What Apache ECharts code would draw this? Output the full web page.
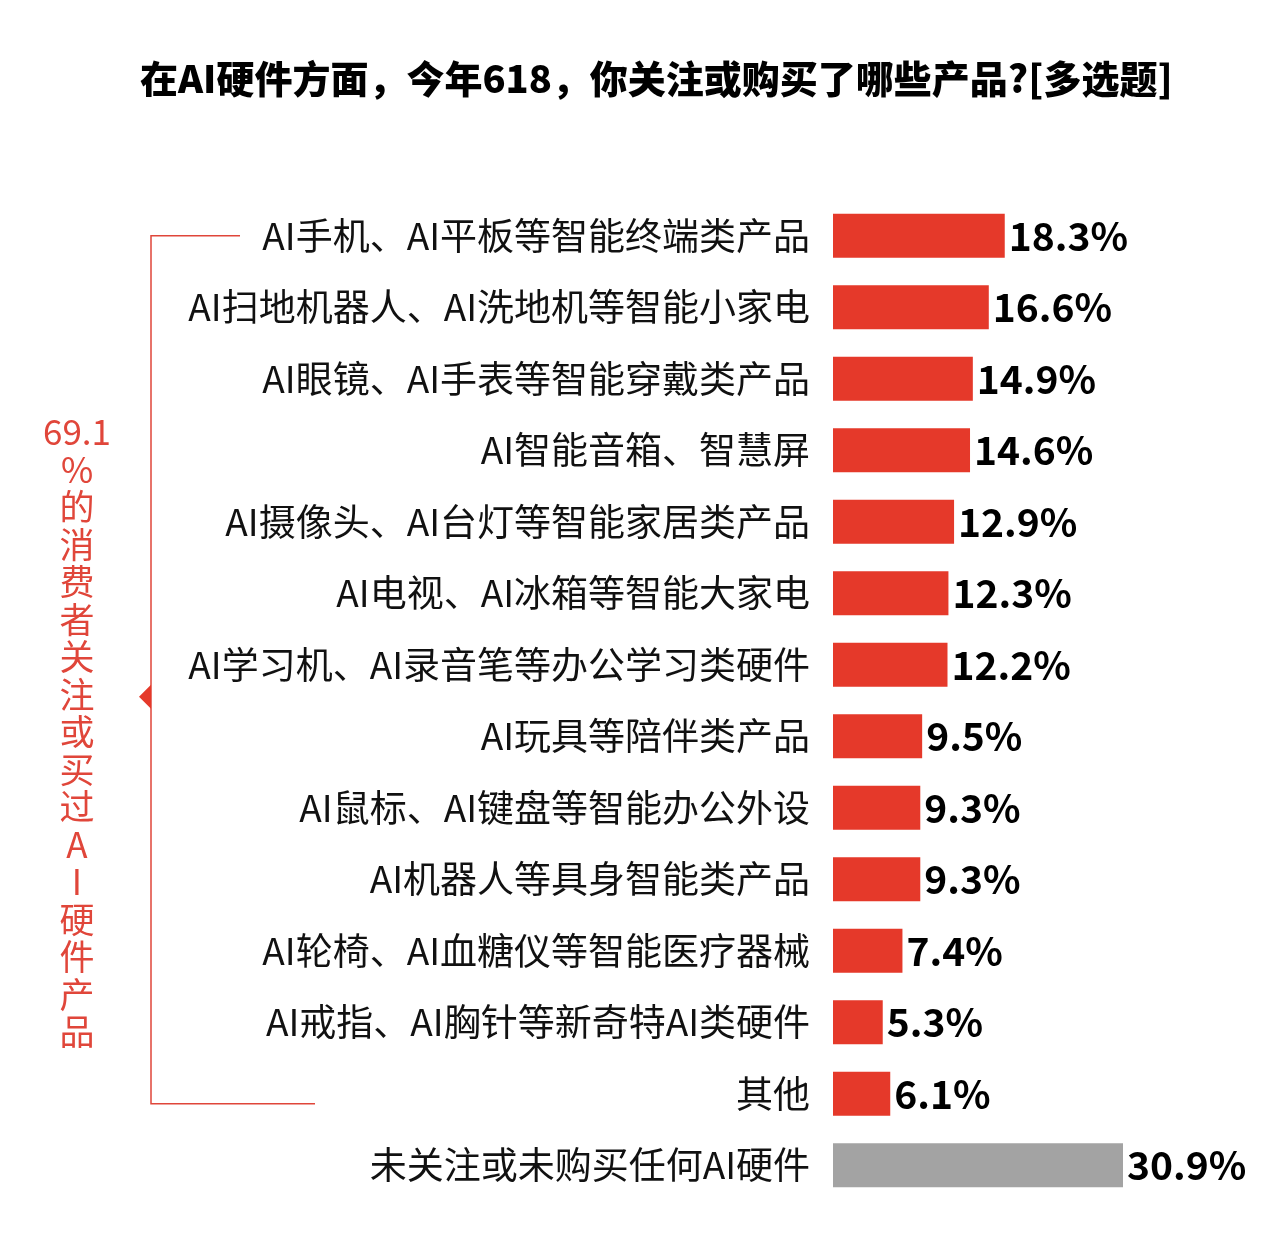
<!DOCTYPE html>
<html>
<head>
<meta charset="utf-8">
<script src="https://cdn.jsdelivr.net/npm/echarts@6/dist/echarts.min.js"></script>
<style>
  html, body { margin: 0; padding: 0; background: #fff; }
  #main { width: 1280px; height: 1252px; }
</style>
</head>
<body>
<div id="main"></div>
<script>
// data, top to bottom
const categories = [
  "AI手机、AI平板等智能终端类产品",
  "AI扫地机器人、AI洗地机等智能小家电",
  "AI眼镜、AI手表等智能穿戴类产品",
  "AI智能音箱、智慧屏",
  "AI摄像头、AI台灯等智能家居类产品",
  "AI电视、AI冰箱等智能大家电",
  "AI学习机、AI录音笔等办公学习类硬件",
  "AI玩具等陪伴类产品",
  "AI鼠标、AI键盘等智能办公外设",
  "AI机器人等具身智能类产品",
  "AI轮椅、AI血糖仪等智能医疗器械",
  "AI戒指、AI胸针等新奇特AI类硬件",
  "其他",
  "未关注或未购买任何AI硬件"
];
const values = [18.3, 16.6, 14.9, 14.6, 12.9, 12.3, 12.2, 9.5, 9.3, 9.3, 7.4, 5.3, 6.1, 30.9];
const titleText = "在AI硬件方面，今年618，你关注或购买了哪些产品?[多选题]";
const bracketText = ["69.1", "%", "的", "消", "费", "者", "关", "注", "或", "买", "过", "A", "I", "硬", "件", "产", "品"];

const RED = "#e5392a";
const GREY = "#a3a3a3";
const FONT = '"Noto Sans CJK SC", "Noto Sans", sans-serif';

let myChart = echarts.init(document.getElementById("main"), null, { renderer: "canvas" });

let option = {
  backgroundColor: "#fff",
  animation: false,
  title: {
    text: titleText,
    left: 135,
    top: 55,
    textStyle: { fontFamily: FONT, fontSize: 38, fontWeight: 900, color: "#000" }
  },
  grid: { left: 833, top: 200, width: 290, height: 1001 },
  xAxis: {
    type: "value",
    min: 0,
    max: Math.max(...values),
    show: false
  },
  yAxis: {
    type: "category",
    inverse: true,
    data: categories,
    axisLine: { show: false },
    axisTick: { show: false },
    splitLine: { show: false },
    axisLabel: {
      margin: 23,
      fontFamily: FONT,
      fontSize: 37,
      color: "#111"
    }
  },
  series: [
    {
      type: "bar",
      barWidth: 44,
      data: values.map((v, i) => ({
        value: v,
        itemStyle: { color: i === values.length - 1 ? GREY : RED }
      })),
      label: {
        show: true,
        position: "right",
        distance: 4,
        formatter: (p) => p.value.toFixed(1) + "%",
        fontFamily: FONT,
        fontSize: 39,
        fontWeight: "bold",
        color: "#000"
      }
    }
  ]
};

myChart.setOption(option);

// bracket on the left, covering every row except the last one
let yTop = myChart.convertToPixel({ yAxisIndex: 0 }, categories[0]);
let yBot = myChart.convertToPixel({ yAxisIndex: 0 }, categories[categories.length - 2]) + 10;
let xLine = 151;
let yMid = (yTop + yBot) / 2 + 27;

myChart.setOption({
  graphic: [
    {
      type: "polyline",
      shape: { points: [[240, yTop], [xLine, yTop], [xLine, yBot], [315, yBot]] },
      style: { stroke: "#e0463a", lineWidth: 1.5, fill: null }
    },
    {
      type: "polygon",
      shape: { points: [[xLine, yMid - 12], [xLine - 12, yMid], [xLine, yMid + 12]] },
      style: { fill: RED }
    },
    {
      type: "text",
      x: 77,
      y: 413,
      style: {
        text: bracketText.join("\n"),
        align: "center",
        verticalAlign: "top",
        lineHeight: 37.5,
        fontFamily: FONT,
        fontSize: 35,
        fill: "#e0463a"
      }
    }
  ]
});

window.addEventListener("resize", myChart.resize);
</script>
</body>
</html>
